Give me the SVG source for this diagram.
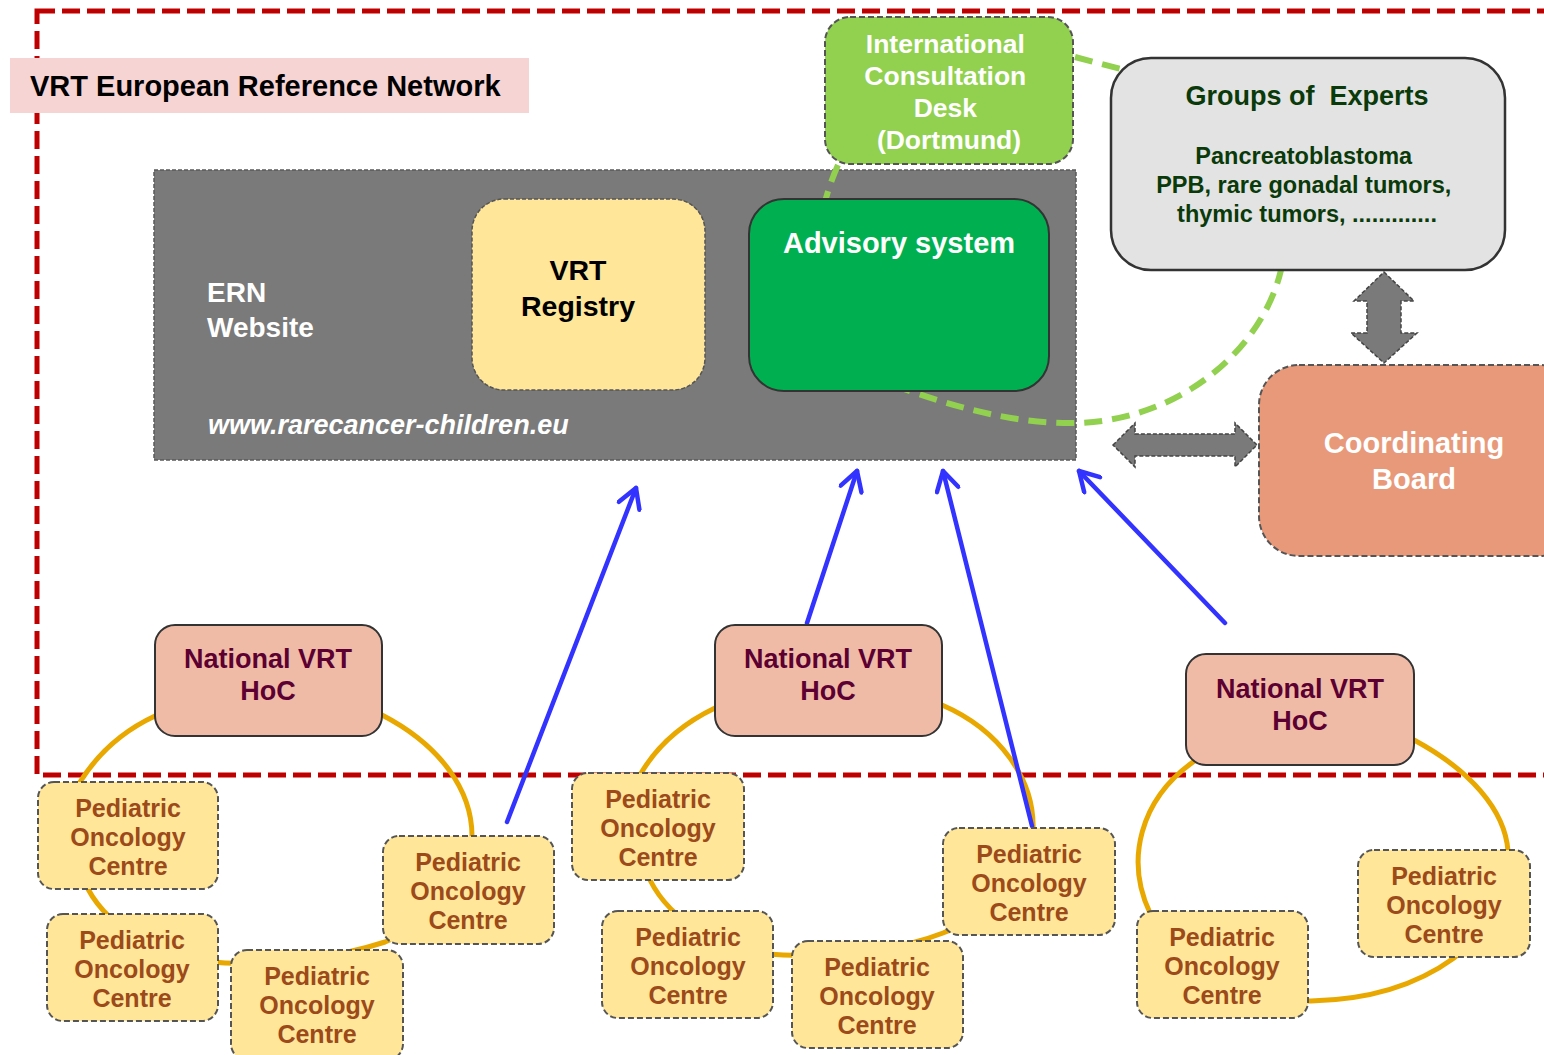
<svg xmlns="http://www.w3.org/2000/svg" width="1544" height="1055" viewBox="0 0 1544 1055">
<defs>
<style>
text{font-family:"Liberation Sans",Arial,sans-serif;font-weight:700}
.poc rect{fill:#FFE699;stroke:#555;stroke-width:2;stroke-dasharray:6 3}
.poc text{font-size:25px;fill:#9C4A1A;text-anchor:middle}
.hoc rect{fill:#F0BBA6;stroke:#333;stroke-width:2}
.hoc text{font-size:27px;fill:#5C0032;text-anchor:middle}
.loop{fill:none;stroke:#E8A800;stroke-width:5}
.green{fill:none;stroke:#92D050;stroke-width:6;stroke-dasharray:18 10}
.blue{fill:none;stroke:#3333FF;stroke-width:4.5;stroke-linecap:round;marker-end:url(#bh)}
.grey{fill:#7A7A7A;stroke:#444;stroke-width:1.5;stroke-dasharray:4 2}
</style>
<marker id="bh" markerUnits="userSpaceOnUse" viewBox="0 0 30 26" markerWidth="30" markerHeight="26" refX="24" refY="13" orient="auto">
<path d="M5,2 L24,13 L5,24" fill="none" stroke="#3333FF" stroke-width="4.5" stroke-linecap="round" stroke-linejoin="round"/>
</marker>
</defs>
<rect width="1544" height="1055" fill="#fff"/>

<g id="ern-boundary">
<rect x="37" y="11" width="1530" height="764" fill="none" stroke="#C00000" stroke-width="5" stroke-dasharray="18 7"/>
<rect x="10" y="58" width="519" height="55" fill="#F7D4D4"/>
<text x="30" y="96" font-size="29" fill="#000">VRT European Reference Network</text>
</g>

<g id="ern-website">
<rect x="154" y="170" width="922" height="290" fill="#7A7A7A" stroke="#5A5A5A" stroke-width="1.5" stroke-dasharray="4 2"/>
<text x="207" y="302" font-size="28" fill="#fff">ERN</text>
<text x="207" y="337" font-size="28" fill="#fff">Website</text>
<text x="208" y="434" font-size="27" font-style="italic" fill="#fff">www.rarecancer-children.eu</text>
</g>

<g id="connectors">
<path class="green" d="M1075,57 L1125,70"/>
<path class="green" d="M838,165 C800,250 810,360 913,392 C980,415 1030,424 1077,423 C1180,420 1262,350 1281,270"/>
<path class="loop" d="M382,715 C440,745 472,790 472,836 C472,880 440,920 385,942 C330,960 270,965 225,963 C165,960 110,930 88,889 C70,850 70,810 80,782 C100,750 125,730 155,716 C220,685 320,685 382,715 Z"/>
<path class="loop" d="M942,705 C1000,730 1035,780 1033,830 C1030,870 990,915 943,933 C900,950 840,957 783,955 C720,952 670,920 650,880 C630,840 630,800 640,775 C660,740 690,720 715,708 C780,680 880,680 942,705 Z"/>
<path class="loop" d="M1414,740 C1470,770 1505,810 1508,851 C1510,900 1480,940 1454,958 C1410,990 1360,1000 1311,1001 C1220,1000 1160,960 1150,913 C1125,860 1140,800 1193,762 C1250,720 1360,715 1414,740 Z"/>
<polygon class="grey" points="1384,272 1414,301 1401,301 1401,333 1417,333 1384,363 1351,333 1367,333 1367,301 1354,301"/>
<polygon class="grey" points="1113,445 1135,423 1135,434 1235,434 1235,423 1257,445 1235,467 1235,456 1135,456 1135,467"/>
<path class="blue" d="M507,822 L636,488"/>
<path class="blue" d="M807,623 L857,471"/>
<path class="blue" d="M1032,826 L943,471"/>
<path class="blue" d="M1225,623 L1079,471"/>
</g>

<g id="vrt-registry">
<rect x="472" y="199" width="233" height="191" rx="32" fill="#FFE699" stroke="#555" stroke-width="1.5" stroke-dasharray="4 2"/>
<text x="578" y="280" font-size="28.5" fill="#000" text-anchor="middle">VRT</text>
<text x="578" y="316" font-size="28.5" fill="#000" text-anchor="middle">Registry</text>
</g>

<g id="advisory-system">
<rect x="749" y="199" width="300" height="192" rx="35" fill="#00B050" stroke="#333" stroke-width="2"/>
<text x="899" y="253" font-size="29" fill="#fff" text-anchor="middle">Advisory system</text>
</g>

<g id="consultation-desk">
<rect x="825" y="17" width="248" height="147" rx="25" fill="#92D050" stroke="#555" stroke-width="2" stroke-dasharray="6 3"/>
<text font-size="26.5" fill="#fff" text-anchor="middle">
<tspan x="949" y="53">International</tspan>
<tspan x="949" y="85">Consultation</tspan>
<tspan x="949" y="117">Desk</tspan>
<tspan x="949" y="149">(Dortmund)</tspan>
</text>
</g>

<g id="groups-of-experts">
<rect x="1111" y="58" width="394" height="212" rx="40" fill="#E3E3E3" stroke="#333" stroke-width="2.5"/>
<text x="1307" y="105" font-size="27" fill="#0A3A0A" text-anchor="middle" style="white-space:pre">Groups of  Experts</text>
<text font-size="23.5" fill="#0A3A0A" text-anchor="middle">
<tspan x="1307" y="164">Pancreatoblastoma</tspan>
<tspan x="1307" y="193">PPB, rare gonadal tumors,</tspan>
<tspan x="1307" y="222">thymic tumors, .............</tspan>
</text>
</g>

<g id="coordinating-board">
<rect x="1259" y="365" width="320" height="191" rx="40" fill="#E8997A" stroke="#555" stroke-width="2" stroke-dasharray="6 3"/>
<text x="1414" y="453" font-size="29" fill="#fff" text-anchor="middle">Coordinating</text>
<text x="1414" y="489" font-size="29" fill="#fff" text-anchor="middle">Board</text>
</g>

<g id="hoc-1" class="hoc">
<rect x="155" y="625" width="227" height="111" rx="20"/>
<text x="268" y="668">National VRT</text>
<text x="268" y="700">HoC</text>
</g>
<g id="hoc-2" class="hoc">
<rect x="715" y="625" width="227" height="111" rx="20"/>
<text x="828" y="668">National VRT</text>
<text x="828" y="700">HoC</text>
</g>
<g id="hoc-3" class="hoc">
<rect x="1186" y="654" width="228" height="111" rx="20"/>
<text x="1300" y="698">National VRT</text>
<text x="1300" y="730">HoC</text>
</g>

<g id="poc-a" class="poc">
<rect x="38" y="782" width="180" height="107" rx="16"/>
<text x="128" y="817">Pediatric</text><text x="128" y="846">Oncology</text><text x="128" y="875">Centre</text>
</g>
<g id="poc-b" class="poc">
<rect x="47" y="914" width="171" height="107" rx="16"/>
<text x="132" y="949">Pediatric</text><text x="132" y="978">Oncology</text><text x="132" y="1007">Centre</text>
</g>
<g id="poc-c" class="poc">
<rect x="231" y="950" width="172" height="110" rx="16"/>
<text x="317" y="985">Pediatric</text><text x="317" y="1014">Oncology</text><text x="317" y="1043">Centre</text>
</g>
<g id="poc-d" class="poc">
<rect x="383" y="836" width="171" height="108" rx="16"/>
<text x="468" y="871">Pediatric</text><text x="468" y="900">Oncology</text><text x="468" y="929">Centre</text>
</g>
<g id="poc-e" class="poc">
<rect x="572" y="773" width="172" height="107" rx="16"/>
<text x="658" y="808">Pediatric</text><text x="658" y="837">Oncology</text><text x="658" y="866">Centre</text>
</g>
<g id="poc-f" class="poc">
<rect x="602" y="911" width="171" height="107" rx="16"/>
<text x="688" y="946">Pediatric</text><text x="688" y="975">Oncology</text><text x="688" y="1004">Centre</text>
</g>
<g id="poc-g" class="poc">
<rect x="792" y="941" width="171" height="107" rx="16"/>
<text x="877" y="976">Pediatric</text><text x="877" y="1005">Oncology</text><text x="877" y="1034">Centre</text>
</g>
<g id="poc-h" class="poc">
<rect x="943" y="828" width="172" height="107" rx="16"/>
<text x="1029" y="863">Pediatric</text><text x="1029" y="892">Oncology</text><text x="1029" y="921">Centre</text>
</g>
<g id="poc-i" class="poc">
<rect x="1137" y="911" width="171" height="107" rx="16"/>
<text x="1222" y="946">Pediatric</text><text x="1222" y="975">Oncology</text><text x="1222" y="1004">Centre</text>
</g>
<g id="poc-j" class="poc">
<rect x="1358" y="850" width="172" height="107" rx="16"/>
<text x="1444" y="885">Pediatric</text><text x="1444" y="914">Oncology</text><text x="1444" y="943">Centre</text>
</g>
</svg>
